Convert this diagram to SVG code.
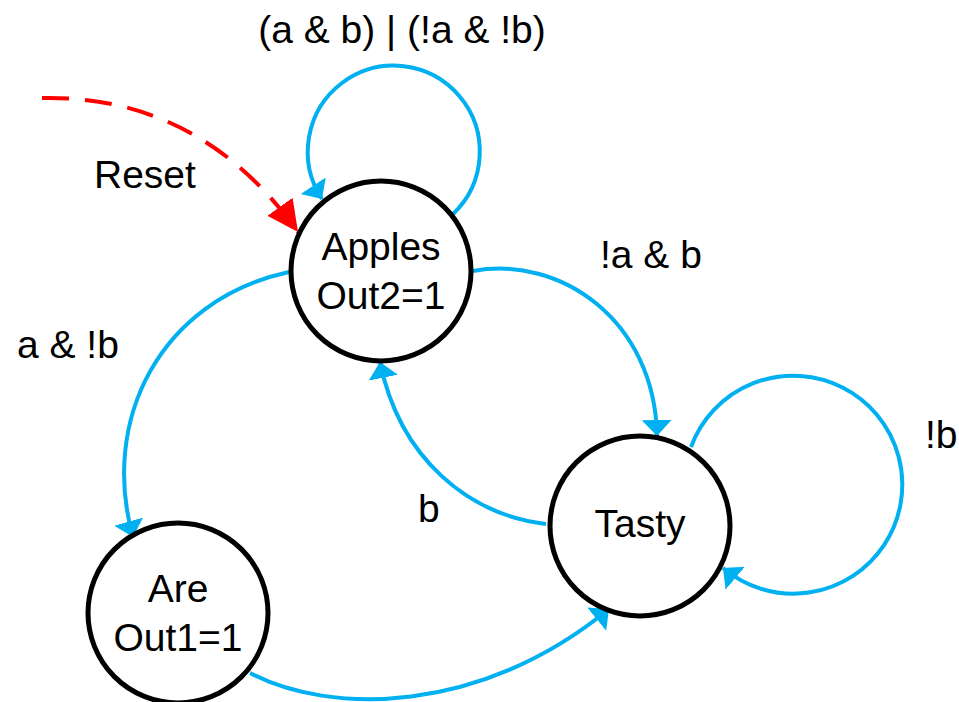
<svg xmlns="http://www.w3.org/2000/svg" width="959" height="702" viewBox="0 0 959 702">
  <style>
    text { font-family: "Liberation Sans", Arial, sans-serif; font-size: 39px; fill: #000; }
    .node text { text-anchor: middle; }
    .state { fill: #fff; stroke: #000; stroke-width: 5; }
    .edge { fill: none; stroke: #00B0F0; stroke-width: 4; marker-end: url(#arrowBlue); }
    .reset { fill: none; stroke: #FF0000; stroke-width: 4; stroke-dasharray: 27 16; marker-end: url(#arrowRed); }
  </style>
  <defs>
    <marker id="arrowBlue" markerUnits="userSpaceOnUse" markerWidth="20" markerHeight="34" viewBox="0 -17 20 34" refX="16" refY="0" orient="auto">
      <path d="M0,-15 L16,0 L0,15 Z" fill="#00B0F0"/>
    </marker>
    <marker id="arrowRed" markerUnits="userSpaceOnUse" markerWidth="34" markerHeight="34" viewBox="0 -17 34 34" refX="31" refY="0" orient="auto">
      <path d="M0,-15.5 L31,0 L0,15.5 Z" fill="#FF0000"/>
    </marker>
  </defs>

  <!-- transitions -->
  <g id="connectors">
    <path class="edge" d="M453,214 A86,86 0 1 0 322,199"/>
    <path class="edge" d="M473,271 C560,255 655,320 657,436"/>
    <path class="edge" d="M546,524 C470,515 400,460 380,362"/>
    <path class="edge" d="M289,272 C160,300 100,420 133,537"/>
    <path class="edge" d="M250,673 C330,715 480,715 609,609"/>
    <path class="edge" d="M691,447 A109,109 0 1 1 723,568"/>
    <path class="reset" d="M42,98 Q200,95 298,232"/>
  </g>

  <!-- states -->
  <g id="apples" class="node">
    <circle class="state" cx="381" cy="271" r="90"/>
    <text x="381" y="260">Apples</text>
    <text x="381" y="309">Out2=1</text>
  </g>
  <g id="tasty" class="node">
    <circle class="state" cx="640" cy="526" r="90"/>
    <text x="640" y="537">Tasty</text>
  </g>
  <g id="are" class="node">
    <circle class="state" cx="178" cy="613" r="90"/>
    <text x="178" y="602">Are</text>
    <text x="178" y="651">Out1=1</text>
  </g>

  <!-- transition labels -->
  <g id="labels">
    <text x="402" y="43" text-anchor="middle">(a &amp; b) | (!a &amp; !b)</text>
    <text x="94" y="188">Reset</text>
    <text x="600" y="268">!a &amp; b</text>
    <text x="17" y="358">a &amp; !b</text>
    <text x="418" y="522">b</text>
    <text x="925" y="448">!b</text>
  </g>
</svg>
